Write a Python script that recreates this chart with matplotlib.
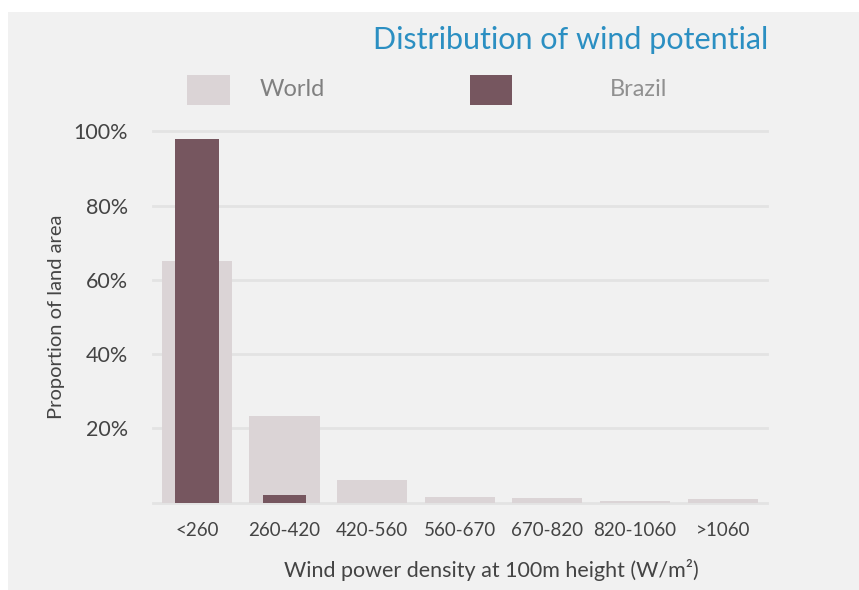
import numpy as np
import matplotlib
matplotlib.use('Agg')
import matplotlib.pyplot as plt
from matplotlib.patches import Rectangle

categories = ['<260', '260-420', '420-560', '560-670', '670-820', '820-1060', '>1060']
world = [65.0, 23.3, 6.2, 1.5, 1.3, 0.5, 1.1]
brazil = [97.9, 2.0, 0, 0, 0, 0, 0]
yticks = [20, 40, 60, 80, 100]

WORLD_C = '#dbd4d6'
BRAZIL_C = '#76565f'
TEXT_C = '#444444'
GRID_C = '#e3e3e3'

plt.rcParams['font.family'] = ['Lato', 'DejaVu Sans']

fig = plt.figure(figsize=(8.59, 5.90), dpi=100)
fig.patch.set_facecolor('white')
fig.add_artist(Rectangle((8/859, 0), 1, 1 - 12/590, transform=fig.transFigure,
                         facecolor='#f1f1f1', edgecolor='none', zorder=-10))

ax = fig.add_axes([153/859, (590-502.7)/590, 613.5/859, 371.5/590])
ax.set_facecolor('none')
x = np.arange(len(categories))
ax.bar(x, world, width=0.8, color=WORLD_C, zorder=2)
ax.bar(x, brazil, width=0.5, color=BRAZIL_C, zorder=3)

ax.set_xlim(-0.5, len(categories) - 0.5)
ax.set_ylim(0, 100)
for v in [0] + yticks:
    ax.axhline(v, color=GRID_C, linewidth=2, zorder=1, clip_on=False)
ax.set_yticks(yticks)
ax.set_yticklabels([f'{v}%' for v in yticks], fontsize=15.5, color=TEXT_C)
ax.set_xticks(x)
ax.set_xticklabels(categories, fontsize=13.5, color=TEXT_C)
ax.tick_params(axis='x', length=0, pad=14)
ax.tick_params(axis='y', length=0, pad=18)
for s in ax.spines.values():
    s.set_visible(False)

ax.set_xlabel('Wind power density at 100m height (W/m²)', fontsize=15.5, color=TEXT_C,
              labelpad=14, x=0.551)
ax.set_ylabel('Proportion of land area', fontsize=14.5, color=TEXT_C, labelpad=6)

fig.text(768/859, 1 - 40/590, 'Distribution of wind potential', ha='right', va='center',
         fontsize=22, color='#2b8fc2')

# legend
fig.add_artist(Rectangle((187/859, 1 - 105/590), 43/859, 30/590, transform=fig.transFigure,
                         facecolor=WORLD_C, edgecolor='none'))
fig.add_artist(Rectangle((470/859, 1 - 105/590), 42/859, 30/590, transform=fig.transFigure,
                         facecolor=BRAZIL_C, edgecolor='none'))
fig.text(260/859, 1 - 89/590, 'World', ha='left', va='center', fontsize=17, color='#808080')
fig.text(610/859, 1 - 89/590, 'Brazil', ha='left', va='center', fontsize=17, color='#909090')

fig.savefig('out.png', dpi=100)
